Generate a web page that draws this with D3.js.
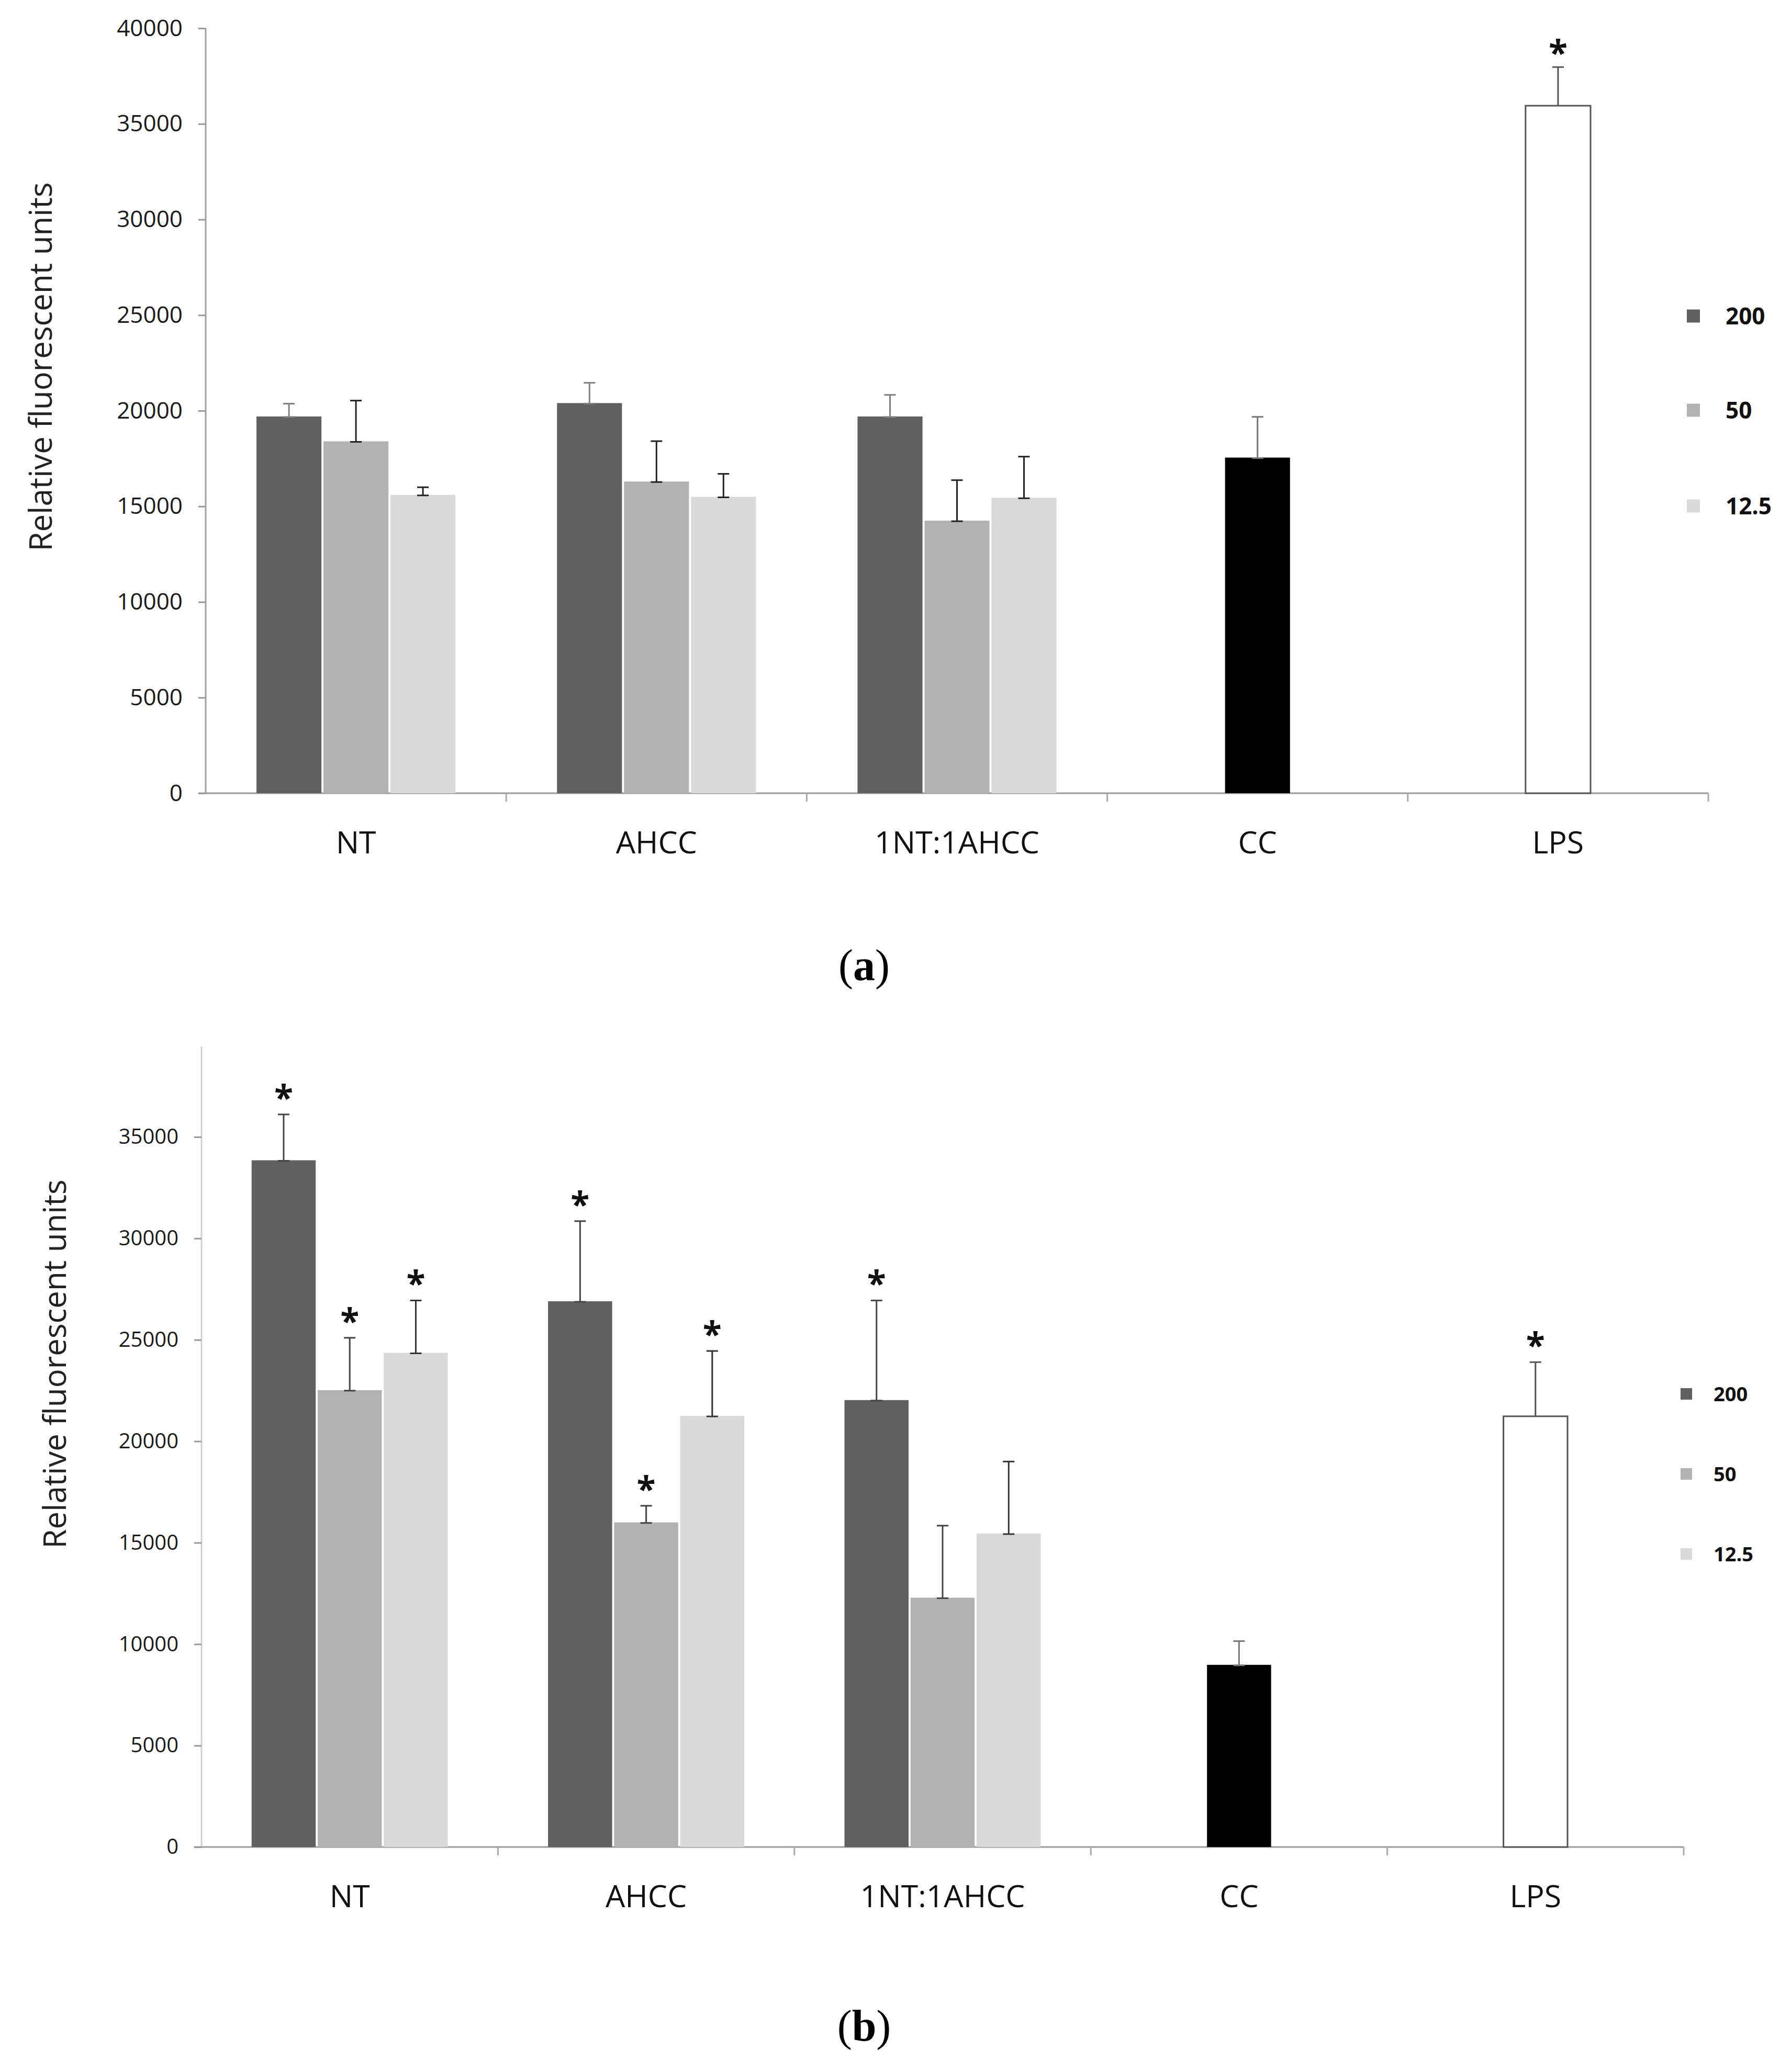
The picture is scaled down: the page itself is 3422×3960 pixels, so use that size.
<!DOCTYPE html>
<html>
<head>
  <meta charset="utf-8">
  <script src="https://d3js.org/d3.v7.min.js"></script>
  <style>
    body { margin: 0; background: #fff; }
    text { font-family: "Open Sans", sans-serif; }
  </style>
</head>
<body>
<script>
// categories and legend
var groups = ["NT", "AHCC", "1NT:1AHCC"];
var controls = ["CC", "LPS"];
var concentrations = ["200", "50", "12.5"];

// panel (a) means and SD
var a200 = [19700, 20400, 19700];
var a200Err = [670, 1060, 1130];
var a50 = [18400, 16300, 14250];
var a50Err = [2130, 2110, 2120];
var a125 = [15600, 15500, 15450];
var a125Err = [400, 1200, 2150];
var aControls = [17550, 35950];
var aControlsErr = [2130, 2020];
var aSig = [[false, false, false], [false, false, false], [false, false, false]];
var aControlsSig = [false, true];

// panel (b) means and SD
var b200 = [33850, 26900, 22030];
var b200Err = [2260, 3950, 4910];
var b50 = [22520, 16000, 12290];
var b50Err = [2580, 820, 3550];
var b125 = [24360, 21250, 15450];
var b125Err = [2580, 3200, 3550];
var bControls = [8980, 21230];
var bControlsErr = [1170, 2670];
var bSig = [[true, true, true], [true, true, true], [true, false, false]];
var bControlsSig = [false, true];

var ticksA = [0, 5000, 10000, 15000, 20000, 25000, 30000, 35000, 40000];
var ticksB = [0, 5000, 10000, 15000, 20000, 25000, 30000, 35000];

var W = 3422, H = 3960;
var svg = d3.select("body").append("svg")
    .attr("width", W)
    .attr("height", H);

var fills = {"200": "#606060", "50": "#b2b2b2", "12.5": "#d9d9d9"};

function drawPanel(p) {
  var g = svg.append("g");
  var cats = groups.concat(controls);

  var x = d3.scaleBand().domain(cats).range([p.left, p.right]);
  var y = d3.scaleLinear().domain([0, p.yMax]).range([p.bottom, p.top]);
  var x1 = d3.scaleBand().domain(concentrations)
      .range([0, x.bandwidth() * 0.662]).paddingInner(0.03);
  var bw = x1.bandwidth();

  // y axis
  var yAxis = g.append("g")
      .attr("transform", "translate(" + p.left + ",0)")
      .call(d3.axisLeft(y).tickValues(p.ticks).tickSize(14).tickPadding(30)
        .tickFormat(d3.format("d")));
  yAxis.select(".domain").attr("stroke", p.axisColor).attr("stroke-width", 3)
      .attr("d", "M0," + p.top + "V" + p.bottom);
  yAxis.selectAll(".tick line").attr("stroke", "#999").attr("stroke-width", 3);
  yAxis.selectAll(".tick text").attr("font-size", p.tickFont).attr("fill", "#1a1a1a")
      .style("font-family", "'Open Sans', sans-serif");

  // x axis with ticks at band boundaries
  var xAxisG = g.append("g");
  xAxisG.append("line")
      .attr("x1", p.left - 14).attr("x2", p.right)
      .attr("y1", p.bottom).attr("y2", p.bottom)
      .attr("stroke", "#999").attr("stroke-width", 3);
  var bounds = cats.map(function (c) { return x(c); }).concat([p.right]);
  xAxisG.selectAll(".xt").data(bounds.slice(1)).enter().append("line")
      .attr("x1", function (d) { return d; }).attr("x2", function (d) { return d; })
      .attr("y1", p.bottom).attr("y2", p.bottom + 16)
      .attr("stroke", "#aaa").attr("stroke-width", 3);
  xAxisG.selectAll(".xl").data(cats).enter().append("text")
      .attr("x", function (d) { return x(d) + x.bandwidth() / 2; })
      .attr("y", p.bottom + 115)
      .attr("text-anchor", "middle")
      .attr("font-size", 59)
      .attr("fill", "#111")
      .text(function (d) { return d; });

  // grouped bars
  var rows = [];
  groups.forEach(function (c, i) {
    concentrations.forEach(function (k, j) {
      rows.push({
        cat: c, key: k, v: p.series[j][i], e: p.errors[j][i], sig: p.sig[i][j],
        x: x(c) + (x.bandwidth() - x1.range()[1]) / 2 + x1(k),
        fill: fills[k], stroke: "none",
        errColor: p.errColors[j]
      });
    });
  });
  controls.forEach(function (c, i) {
    rows.push({
      cat: c, key: c, v: p.controls[i], e: p.controlsErr[i], sig: p.controlsSig[i],
      x: x(c) + (x.bandwidth() - bw) / 2,
      fill: i === 0 ? "#000" : "#fff", stroke: i === 0 ? "none" : "#555",
      errColor: i === 0 ? "#777" : "#555"
    });
  });

  g.selectAll(".bar").data(rows).enter().append("rect")
      .attr("x", function (d) { return d.x; })
      .attr("y", function (d) { return y(d.v); })
      .attr("width", bw)
      .attr("height", function (d) { return p.bottom - y(d.v); })
      .attr("fill", function (d) { return d.fill; })
      .attr("stroke", function (d) { return d.stroke; })
      .attr("stroke-width", 3);

  // error bars: stem, top cap and a cap at the bar top
  var eb = g.selectAll(".err").data(rows).enter().append("g")
      .attr("stroke", function (d) { return d.errColor; })
      .attr("stroke-width", 3);
  eb.append("line")
      .attr("x1", function (d) { return d.x + bw / 2; })
      .attr("x2", function (d) { return d.x + bw / 2; })
      .attr("y1", function (d) { return y(d.v); })
      .attr("y2", function (d) { return y(d.v + d.e); });
  eb.append("line")
      .attr("x1", function (d) { return d.x + bw / 2 - 11; })
      .attr("x2", function (d) { return d.x + bw / 2 + 11; })
      .attr("y1", function (d) { return y(d.v + d.e); })
      .attr("y2", function (d) { return y(d.v + d.e); });
  eb.filter(function (d) { return d.fill !== "#fff"; }).append("line")
      .attr("x1", function (d) { return d.x + bw / 2 - 11; })
      .attr("x2", function (d) { return d.x + bw / 2 + 11; })
      .attr("y1", function (d) { return y(d.v) + 1; })
      .attr("y2", function (d) { return y(d.v) + 1; });

  // significance stars
  g.selectAll(".star").data(rows.filter(function (d) { return d.sig; }))
    .enter().append("text")
      .attr("x", function (d) { return d.x + bw / 2; })
      .attr("y", function (d) { return y(d.v + d.e) - p.starGap + 32; })
      .attr("text-anchor", "middle")
      .attr("font-size", 66)
      .attr("font-weight", 700)
      .attr("fill", "#111")
      .text("*");

  // y axis title
  g.append("text")
      .attr("transform", "translate(" + p.titleX + "," + p.titleY + ") rotate(-90)")
      .attr("text-anchor", "middle")
      .attr("font-size", 60)
      .attr("fill", "#222")
      .text("Relative fluorescent units");

  // legend
  var lg = g.selectAll(".leg").data(concentrations).enter().append("g")
      .attr("transform", function (d, i) {
        return "translate(" + p.legX + "," + p.legY[i] + ")";
      });
  lg.append("rect")
      .attr("x", 0).attr("y", -p.legSize / 2)
      .attr("width", p.legSize).attr("height", p.legSize)
      .attr("fill", function (d) { return fills[d]; });
  lg.append("text")
      .attr("x", p.legText)
      .attr("y", p.legFont * 0.357)
      .attr("font-size", p.legFont)
      .attr("font-weight", 700)
      .attr("fill", "#111")
      .text(function (d) { return d; });

  // panel label
  var lab = g.append("text")
      .attr("x", p.labelX).attr("y", p.labelY)
      .attr("text-anchor", "middle")
      .attr("font-size", 84)
      .style("font-family", "'Liberation Serif', serif");
  lab.append("tspan").text("(");
  lab.append("tspan").attr("font-weight", 700).text(p.label);
  lab.append("tspan").text(")");
}

drawPanel({
  series: [a200, a50, a125], errors: [a200Err, a50Err, a125Err], sig: aSig,
  controls: aControls, controlsErr: aControlsErr, controlsSig: aControlsSig,
  errColors: ["#808080", "#222", "#222"],
  left: 393, right: 3264, top: 54, bottom: 1516, yMax: 40000, ticks: ticksA,
  axisColor: "#a0a0a0", tickFont: 44, starGap: 35,
  titleX: 99, titleY: 701,
  legX: 3223, legY: [604, 784, 967], legSize: 25, legText: 74, legFont: 44,
  label: "a", labelX: 1651, labelY: 1873
});

drawPanel({
  series: [b200, b50, b125], errors: [b200Err, b50Err, b125Err], sig: bSig,
  controls: bControls, controlsErr: bControlsErr, controlsSig: bControlsSig,
  errColors: ["#444", "#444", "#333"],
  left: 385, right: 3217, top: 2000, bottom: 3530, yMax: 39460, ticks: ticksB,
  axisColor: "#d0d0d0", tickFont: 40, starGap: 40,
  titleX: 126, titleY: 2607,
  legX: 3211, legY: [2664, 2817, 2970], legSize: 22, legText: 63, legFont: 38,
  label: "b", labelX: 1651, labelY: 3900
});
</script>
</body>
</html>
